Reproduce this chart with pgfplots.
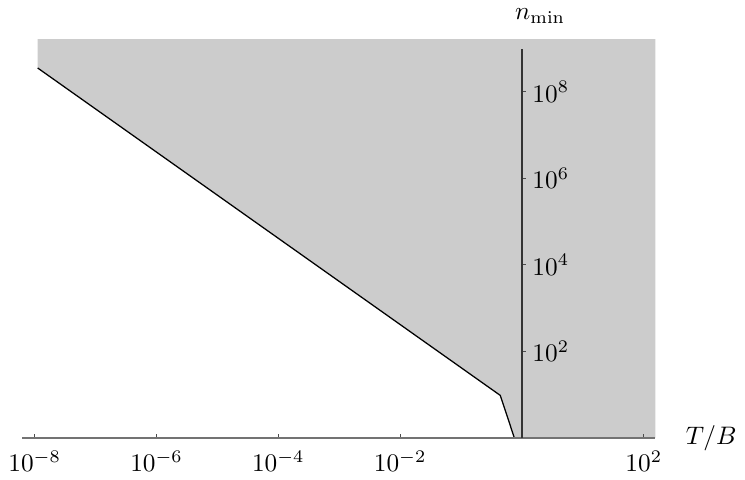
\documentclass[border=0pt]{standalone}
\usepackage{pgfplots}
\pgfplotsset{compat=1.18}

\definecolor{regiongray}{HTML}{CCCCCC}

\begin{document}
\begin{tikzpicture}
\begin{axis}[
  scale only axis,
  width=250pt, height=153.8pt,
  xmode=log, ymode=log,
  xmin=6.31e-9, xmax=154.9,
  ymin=1, ymax=1e9,
  axis x line=middle, axis y line=middle,
  axis on top,
  clip=false,
  xtick={1e-8,1e-6,1e-4,1e-2,1e2},
  ytick={1e2,1e4,1e6,1e8},
  minor tick num=0,
  tick align=inside,
  major tick length=1.7pt,
  x axis line style={black!55, line width=0.8pt, -},
  y axis line style={black!80, line width=0.5pt, -},
  xtick style={black!70, line width=0.4pt},
  ytick style={black!70, line width=0.4pt},
  xticklabel style={anchor=north, yshift=-1.5pt},
  yticklabel style={anchor=west, xshift=0.6pt},
  xlabel={$T/B$},
  ylabel={$n_{\min}$},
  xlabel style={at={(axis description cs:1,0)}, anchor=west, xshift=8.5pt},
  ylabel style={at={(axis description cs:0.818,1)}, anchor=south, rotate=0, yshift=6.5pt},
]
% shaded region above the bound
\addplot[fill=regiongray, draw=none] coordinates {
  (1.12e-8, 3.55e8)
  (0.44, 9.6)
  (0.75, 1)
  (154.9, 1)
  (154.9, 1.66e9)
  (1.12e-8, 1.66e9)
} -- cycle;
% boundary curve
\addplot[black, line width=0.5pt] coordinates {
  (1.12e-8, 3.55e8)
  (0.44, 9.6)
  (0.75, 1)
};
\end{axis}
\end{tikzpicture}
\end{document}
